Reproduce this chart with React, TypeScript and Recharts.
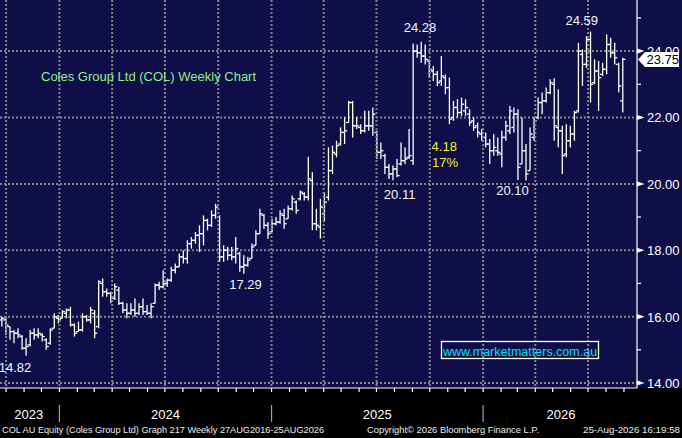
import {
  Bar,
  CartesianGrid,
  ComposedChart,
  ReferenceDot,
  XAxis,
  YAxis,
} from 'recharts';

// weekly OHLC, first bar ~20 Sep 2023
const WEEK_OPEN = [
  15.9, 15.9, 15.7, 15.55, 15.5, 15.4, 15.05, 15.15, 15.5, 15.45, 15.45, 15.3, 15.2, 15.65, 15.95, 15.95, 16.1, 16.2, 15.75, 15.55,
  15.6, 16.0, 15.9, 16.1, 15.7, 17.0, 16.75, 16.7, 16.55, 16.8, 16.4, 16.2, 16.1, 16.2, 16.1, 16.3, 16.15, 16.1, 16.4, 16.95,
  16.9, 17.0, 17.1, 17.4, 17.5, 17.8, 17.75, 18.2, 18.3, 18.45, 18.5, 18.9, 18.75, 19.05, 19.0, 17.8, 18.0, 17.85, 17.8, 17.9,
  17.5, 17.55, 17.75, 18.15, 18.5, 19.05, 18.75, 18.55, 18.8, 18.85, 19.05, 18.95, 19.25, 19.45, 19.55, 19.7, 19.6, 20.1, 18.8, 18.7,
  19.1, 19.6, 20.4, 20.9, 21.2, 21.55, 21.85, 22.45, 21.75, 21.7, 21.6, 21.75, 21.75, 21.55, 20.95, 20.85, 20.5, 20.3, 20.45, 20.6,
  20.7, 20.8, 20.7, 24.0, 23.95, 23.85, 23.7, 23.4, 23.3, 23.1, 23.2, 22.9, 22.0, 22.3, 22.15, 22.2, 22.1, 21.9, 21.75, 21.5,
  21.4, 21.2, 21.0, 21.0, 20.9, 21.4, 21.6, 21.7, 22.1, 20.6, 21.0, 20.4, 21.4, 22.0, 22.45, 22.5, 22.75, 23.0, 21.7, 21.6,
  20.9, 21.3, 21.5, 22.2, 23.9, 23.6, 24.35, 23.05, 23.4, 23.3, 23.45, 24.2, 23.95, 23.6, 22.5,
];
const WEEK_HIGH = [
  16.0, 15.95, 15.7, 15.6, 15.65, 15.45, 15.35, 15.6, 15.65, 15.65, 15.5, 15.35, 15.65, 16.1, 16.05, 16.2, 16.25, 16.3, 15.8, 15.85,
  16.1, 16.05, 16.3, 16.2, 17.1, 17.15, 16.85, 16.75, 17.0, 16.9, 16.45, 16.4, 16.4, 16.55, 16.4, 16.55, 16.35, 16.4, 17.0, 17.05,
  17.4, 17.15, 17.5, 17.6, 17.9, 18.0, 18.3, 18.4, 18.55, 18.75, 19.05, 18.95, 19.2, 19.4, 19.05, 18.15, 18.1, 18.1, 18.4, 17.95,
  17.85, 17.8, 18.2, 18.6, 19.25, 19.1, 18.85, 18.95, 19.0, 19.2, 19.25, 19.35, 19.65, 19.5, 19.8, 19.75, 20.82, 20.35, 19.25, 19.55,
  19.75, 21.1, 21.15, 21.3, 21.7, 22.0, 22.5, 22.5, 22.0, 21.8, 22.2, 22.2, 22.3, 21.6, 21.25, 20.9, 20.6, 20.55, 20.75, 21.25,
  21.1, 21.65, 24.23, 24.2, 24.28, 24.2, 23.75, 23.55, 23.4, 23.85, 23.3, 23.2, 22.5, 22.55, 22.6, 22.55, 22.25, 22.0, 21.85, 21.65,
  21.55, 21.35, 21.5, 21.4, 21.6, 21.9, 22.35, 22.3, 22.25, 22.0, 21.2, 21.7, 22.0, 22.6, 22.75, 22.9, 23.15, 23.18, 22.85, 21.75,
  21.8, 21.75, 22.2, 24.25, 24.05, 24.45, 24.59, 23.75, 23.7, 23.65, 24.5, 24.4, 24.25, 23.65, 23.8,
];
const WEEK_LOW = [
  15.7, 15.45, 15.3, 15.2, 15.35, 15.0, 14.82, 15.1, 15.3, 15.35, 15.25, 15.0, 15.15, 15.65, 15.8, 15.95, 15.95, 15.7, 15.4, 15.55,
  15.55, 15.85, 15.8, 15.35, 15.65, 16.6, 16.6, 16.4, 16.5, 16.35, 16.1, 15.95, 16.05, 16.0, 16.05, 16.05, 16.05, 15.95, 16.4, 16.8,
  16.85, 16.9, 17.05, 17.3, 17.5, 17.6, 17.6, 18.05, 18.2, 17.95, 18.15, 18.6, 18.7, 18.95, 17.65, 17.65, 17.7, 17.7, 17.6, 17.35,
  17.29, 17.5, 17.75, 18.15, 18.5, 18.65, 18.35, 18.55, 18.75, 18.8, 18.65, 18.95, 19.2, 19.1, 19.5, 19.5, 19.5, 18.6, 18.6, 18.35,
  18.85, 19.5, 20.3, 20.8, 21.15, 21.2, 21.85, 21.4, 21.65, 21.5, 21.55, 21.6, 21.45, 20.75, 20.75, 20.3, 20.15, 20.11, 20.2, 20.55,
  20.6, 20.75, 20.57, 23.8, 23.65, 23.6, 23.2, 23.1, 22.95, 22.95, 22.7, 21.8, 21.9, 22.0, 22.05, 22.05, 21.75, 21.6, 21.4, 21.3,
  21.1, 20.6, 20.85, 20.85, 20.5, 21.3, 21.5, 21.55, 20.12, 20.6, 20.1, 20.4, 21.3, 21.95, 22.1, 22.45, 22.7, 21.3, 21.1, 20.3,
  20.8, 21.1, 21.3, 22.15, 22.95, 23.5, 22.45, 23.0, 22.2, 23.25, 23.3, 23.8, 23.6, 22.75, 22.15,
];
const WEEK_CLOSE = [
  15.95, 15.75, 15.55, 15.5, 15.45, 15.05, 15.1, 15.5, 15.45, 15.5, 15.4, 15.1, 15.6, 16.0, 15.9, 16.15, 16.2, 15.75, 15.5, 15.6,
  16.0, 15.9, 16.2, 15.5, 17.05, 16.75, 16.7, 16.6, 16.9, 16.4, 16.2, 16.1, 16.2, 16.1, 16.3, 16.15, 16.1, 16.3, 16.95, 16.9,
  17.0, 17.1, 17.4, 17.5, 17.8, 17.75, 18.2, 18.3, 18.45, 18.5, 18.9, 18.75, 19.05, 19.3, 17.8, 18.0, 17.85, 17.8, 18.05, 17.5,
  17.55, 17.7, 18.1, 18.5, 19.1, 18.75, 18.5, 18.8, 18.85, 19.1, 18.8, 19.25, 19.55, 19.2, 19.75, 19.6, 20.15, 18.8, 18.75, 19.3,
  19.45, 20.4, 20.95, 21.15, 21.55, 21.6, 22.45, 21.75, 21.75, 21.6, 21.75, 21.75, 22.1, 20.95, 21.0, 20.5, 20.3, 20.45, 20.25, 20.7,
  20.75, 20.85, 24.0, 23.95, 23.85, 23.75, 23.45, 23.3, 23.05, 23.25, 22.9, 21.95, 22.3, 22.15, 22.4, 22.3, 21.85, 21.7, 21.55, 21.4,
  21.2, 21.0, 21.1, 20.95, 21.4, 21.75, 22.2, 22.1, 20.5, 21.0, 20.3, 21.5, 21.9, 22.45, 22.5, 22.75, 23.05, 21.75, 21.6, 20.85,
  21.3, 21.5, 22.15, 24.0, 23.6, 24.35, 23.0, 23.4, 23.2, 23.45, 24.2, 23.95, 23.8, 22.95, 23.75,
];

const SLOTS = 158; // weeks on the time axis, incl. empty space at the right
const START = Date.UTC(2023, 8, 20, 12);
const TICK_MONTHS = [
  '2023-10', '2023-11', '2023-12', '2024-01', '2024-02', '2024-03', '2024-04', '2024-05', '2024-06',
  '2024-07', '2024-08', '2024-09', '2024-10', '2024-11', '2024-12', '2025-01', '2025-02', '2025-03',
  '2025-04', '2025-05', '2025-06', '2025-07', '2025-08', '2025-09', '2025-10', '2025-11', '2025-12',
  '2026-01', '2026-02', '2026-03', '2026-04', '2026-05', '2026-06', '2026-07', '2026-08', '2026-09',
];
const YEARS = [2023, 2024, 2025, 2026];
const PRICE_TICKS = [14, 15, 16, 17, 18, 19, 20, 21, 22, 23, 24, 25];
const PRICE_GRID = [14, 16, 18, 20, 22, 24];
const PRICE_DOMAIN = [13.85, 25.54];
const LAST_CLOSE = 23.75;

// price call-outs: [week position, price, text, side, gap]
const CALLOUTS: [number, number, string, 'top' | 'bottom', number][] = [
  [3.7, 14.82, '14.82', 'bottom', 6],
  [60.5, 17.29, '17.29', 'bottom', 5],
  [98.5, 20.11, '20.11', 'bottom', 9],
  [103.5, 24.28, '24.28', 'top', 9],
  [126.3, 20.1, '20.10', 'bottom', 4],
  [143.4, 24.59, '24.59', 'top', 5.5],
];
const MOVE_NOTES: [number, number, string][] = [
  [109.5, 21.12, '4.18'],
  [109.7, 20.64, '17%'],
];

const FONT = '"Liberation Sans", Arial, sans-serif';
const NAVY = '#0f0e48';
const GRID = '#858585';

const weekOf = (ym: string) => {
  const [y, m] = ym.split('-').map(Number);
  return (Date.UTC(y, m - 1, 1) - START) / (7 * 864e5);
};

const rows = Array.from({ length: SLOTS }, (_, i) => ({
  i,
  o: WEEK_OPEN[i] ?? null,
  h: WEEK_HIGH[i] ?? null,
  l: WEEK_LOW[i] ?? null,
  c: WEEK_CLOSE[i] ?? null,
}));

const T_DOMAIN = [-0.5, SLOTS - 0.5];
const monthTicks = TICK_MONTHS.map(weekOf);
const quarterLines = TICK_MONTHS.filter((m) => (Number(m.slice(5)) - 1) % 3 === 0).map(weekOf);
const yearBounds = YEARS.slice(1).map((y) => weekOf(`${y}-01`));
const yearCenters = YEARS.map((y) => {
  const a = Math.max(T_DOMAIN[0], weekOf(`${y}-01`));
  const b = Math.min(T_DOMAIN[1], weekOf(`${y + 1}-01`));
  return (a + b) / 2;
});
const timeTicks = [...monthTicks, ...yearCenters];

function OhlcShape(props: any) {
  const { x, y, width, height, payload } = props;
  if (!payload || payload.h == null) return <g />;
  const top = Math.min(y, y + height);
  const bot = Math.max(y, y + height);
  const span = payload.h - payload.l;
  const at = (v: number) => (span > 0 ? bot - ((v - payload.l) / span) * (bot - top) : top);
  const cx = x + width / 2;
  return (
    <g stroke="#fff" strokeWidth={1.3}>
      <line x1={cx} x2={cx} y1={top} y2={bot} />
      <line x1={cx - 2.6} x2={cx} y1={at(payload.o)} y2={at(payload.o)} />
      <line x1={cx} x2={cx + 2.6} y1={at(payload.c)} y2={at(payload.c)} />
    </g>
  );
}

function PriceTick(props: any) {
  const { x, y, payload } = props;
  const v = payload.value as number;
  if (v === LAST_CLOSE) {
    return (
      <g>
        <polygon
          points={`${x + 1},${y} ${x + 8},${y - 7.5} ${x + 42},${y - 7.5} ${x + 42},${y + 7.5} ${x + 8},${y + 7.5}`}
          fill="#fff"
        />
        <text x={x + 9.5} y={y + 5} fill="#000" fontSize={13} fontFamily={FONT}>
          {v.toFixed(2)}
        </text>
      </g>
    );
  }
  if (v % 2 !== 0) {
    return <line x1={x} x2={x + 4} y1={y} y2={y} stroke="#fff" strokeWidth={1.2} />;
  }
  return (
    <g>
      <polygon points={`${x},${y - 2.6} ${x + 7.5},${y} ${x},${y + 2.6}`} fill="#fff" />
      <text x={x + 10} y={y + 5} fill="#fff" fontSize={13} fontFamily={FONT}>
        {v.toFixed(2)}
      </text>
    </g>
  );
}

// bottom axis: monthly tick marks, quarterly dotted grid lines up to the top of the plot,
// year names centred in each year, separators between years
function TimeTick(props: any) {
  const { x, y, payload } = props;
  const v = payload.value as number;
  const yi = yearCenters.indexOf(v);
  if (yi >= 0) {
    return (
      <text x={x} y={y + 31} fill="#fff" fontSize={13} fontFamily={FONT} textAnchor="middle">
        {YEARS[yi]}
      </text>
    );
  }
  return (
    <g>
      {quarterLines.includes(v) && (
        <line x1={x} x2={x} y1={0} y2={y} stroke={GRID} strokeWidth={2} strokeDasharray="2 2" />
      )}
      <line x1={x} x2={x} y1={y} y2={y + 4} stroke="#fff" strokeWidth={1.2} />
      {yearBounds.includes(v) && (
        <line x1={x} x2={x} y1={y + 17} y2={y + 34} stroke="#a0a0a0" strokeWidth={1.2} />
      )}
    </g>
  );
}

export default function App() {
  return (
    <div
      style={{
        position: 'absolute',
        left: 0,
        top: 0,
        width: 682,
        height: 438,
        background: `linear-gradient(to bottom, ${NAVY} 0px, ${NAVY} 388px, #000 388px)`,
        fontFamily: FONT,
      }}
    >
      <ComposedChart width={682} height={438} data={rows} margin={{ top: 0, right: 0, bottom: 0, left: 0 }}>
        <CartesianGrid
          xAxisId="t"
          yAxisId="p"
          vertical={false}
          horizontalValues={PRICE_GRID}
          stroke={GRID}
          strokeWidth={2}
          strokeDasharray="2 2"
        />
        <XAxis xAxisId="bars" dataKey="i" type="category" orientation="top" hide />
        <XAxis
          xAxisId="t"
          type="number"
          domain={T_DOMAIN}
          allowDataOverflow
          ticks={timeTicks}
          interval={0}
          height={50}
          tickSize={0}
          tickMargin={0}
          tickLine={false}
          axisLine={{ stroke: '#fff', strokeWidth: 1.2 }}
          tick={<TimeTick />}
        />
        <YAxis
          yAxisId="p"
          orientation="right"
          domain={PRICE_DOMAIN}
          allowDataOverflow
          ticks={[...PRICE_TICKS, LAST_CLOSE]}
          interval={0}
          width={45}
          tickSize={0}
          tickMargin={0}
          tickLine={false}
          axisLine={{ stroke: '#fff', strokeWidth: 1.2 }}
          tick={<PriceTick />}
        />
        <Bar
          xAxisId="bars"
          yAxisId="p"
          dataKey={(d: any) => (d.h == null ? null : [d.l, d.h])}
          shape={<OhlcShape />}
          isAnimationActive={false}
        />
        {CALLOUTS.map(([w, price, text, side, gap]) => (
          <ReferenceDot
            key={text}
            xAxisId="t"
            yAxisId="p"
            x={w}
            y={price}
            r={1}
            fill="none"
            stroke="none"
            ifOverflow="visible"
            label={{ value: text, position: side, offset: gap, fill: '#f4f6ff', fontSize: 13, fontFamily: FONT }}
          />
        ))}
        {MOVE_NOTES.map(([w, price, text]) => (
          <ReferenceDot
            key={text}
            xAxisId="t"
            yAxisId="p"
            x={w}
            y={price}
            r={1}
            fill="none"
            stroke="none"
            label={{ value: text, position: 'center', fill: '#f0f02a', fontSize: 13, fontFamily: FONT }}
          />
        ))}
      </ComposedChart>
      <svg width={682} height={438} style={{ position: 'absolute', left: 0, top: 0, pointerEvents: 'none' }}>
        <text x={41} y={81} fill="#8fef8f" fontSize={13} fontFamily={FONT}>
          Coles Group Ltd (COL) Weekly Chart
        </text>
        <rect x={441.5} y={341.5} width={157} height={17} fill="none" stroke="#fff" strokeWidth={1.3} />
        <text x={520} y={356} fill="#00e6f6" fontSize={12.5} fontFamily={FONT} textAnchor="middle">
          www.marketmatters.com.au
        </text>
        <g fill="#ececec" fontSize={9.5} fontFamily={FONT}>
          <text x={2} y={433} textLength={322} lengthAdjust="spacingAndGlyphs">
            COL AU Equity (Coles Group Ltd) Graph 217 Weekly 27AUG2016-25AUG2026
          </text>
          <text x={367} y={433} textLength={172} lengthAdjust="spacingAndGlyphs">
            Copyright© 2026 Bloomberg Finance L.P.
          </text>
          <text x={583} y={433} textLength={97} lengthAdjust="spacingAndGlyphs">
            25-Aug-2026 16:19:58
          </text>
        </g>
      </svg>
    </div>
  );
}
